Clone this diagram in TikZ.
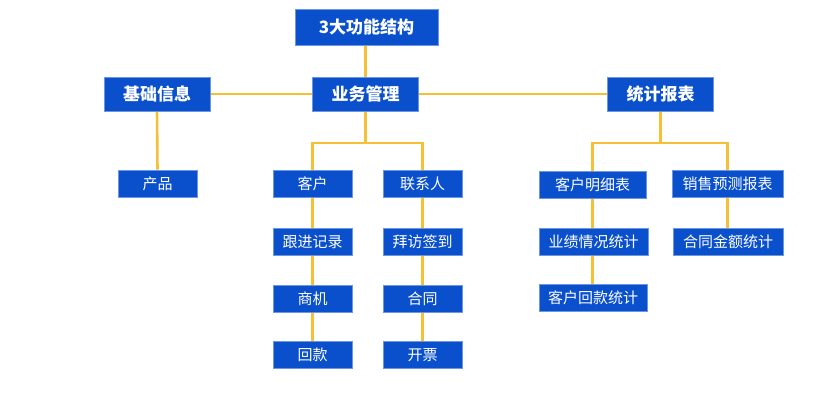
\documentclass[tikz,border=0pt]{standalone}
\usepackage{fontspec}
\setmainfont{Noto Sans CJK SC}
\usetikzlibrary{backgrounds}
\definecolor{boxblue}{HTML}{0A50CC}
\definecolor{lineyel}{HTML}{F5C036}
\begin{document}
\begin{tikzpicture}[x=1pt,y=-1pt,
  box/.style={fill=boxblue,draw=boxblue!60!white,line width=0.6pt,text=white,inner sep=0pt,anchor=center},
  big/.style={box,minimum width=106pt,minimum height=34pt,font=\fontsize{17}{17}\selectfont\bfseries},
  small/.style={box,minimum width=79pt,minimum height=27pt,font=\fontsize{15}{15}\selectfont},
  conn/.style={draw=lineyel,line width=2.6pt}]
\useasboundingbox (0,0) rectangle (828,410);
\coordinate (bl) at (312.5,143);
\coordinate (bm) at (365.5,143);
\coordinate (br) at (422.5,143);
\coordinate (sl) at (592.5,143);
\coordinate (sm) at (660.5,143);
\coordinate (sr) at (727.5,143);
\node[big,minimum width=143pt,minimum height=36pt] (top) at (366.5,27) {3大功能结构};
\node[big] (jc) at (157,94) {基础信息};
\node[big] (yw) at (365.5,94) {业务管理};
\node[big] (tj) at (660.5,94) {统计报表};
\node[small] (cp) at (157.5,183.5) {产品};
\node[small] (kh) at (312.5,183.5) {客户};
\node[small] (lx) at (422.5,183.5) {联系人};
\node[small] (gj) at (312.5,241.5) {跟进记录};
\node[small] (bf) at (422.5,241.5) {拜访签到};
\node[small] (sj) at (312.5,299) {商机};
\node[small] (ht) at (422.5,299) {合同};
\node[small] (hk) at (312.5,355) {回款};
\node[small] (kp) at (422.5,355) {开票};
\node[small,minimum width=107pt] (mx) at (592.5,185) {客户明细表};
\node[small,minimum width=111pt] (xs) at (727.5,184) {销售预测报表};
\node[small,minimum width=109pt] (yj) at (593.5,241.5) {业绩情况统计};
\node[small,minimum width=110pt] (je) at (728,241.5) {合同金额统计};
\node[small,minimum width=108pt] (hkt) at (593,297.5) {客户回款统计};
\begin{scope}[on background layer]
\draw[conn] (top.south -| yw) -- (yw.north);
\draw[conn] (jc.east) -- (yw.west);
\draw[conn] (yw.east) -- (tj.west);
\draw[conn] (jc.south) -- (cp.north);
\draw[conn] (yw.south) -- (bm);
\draw[conn] (kh.north) -- (bl) -- (br) -- (lx.north);
\draw[conn] (kh) -- (gj) -- (sj) -- (hk);
\draw[conn] (lx) -- (bf) -- (ht) -- (kp);
\draw[conn] (tj.south) -- (sm);
\draw[conn] (mx.north) -- (sl) -- (sr) -- (xs.north);
\draw[conn] (mx.south) -- (mx.south |- yj.north);
\draw[conn] (mx.south |- yj.south) -- (mx.south |- hkt.north);
\draw[conn] (xs.south) -- (xs.south |- je.north);
\end{scope}
\end{tikzpicture}
\end{document}
